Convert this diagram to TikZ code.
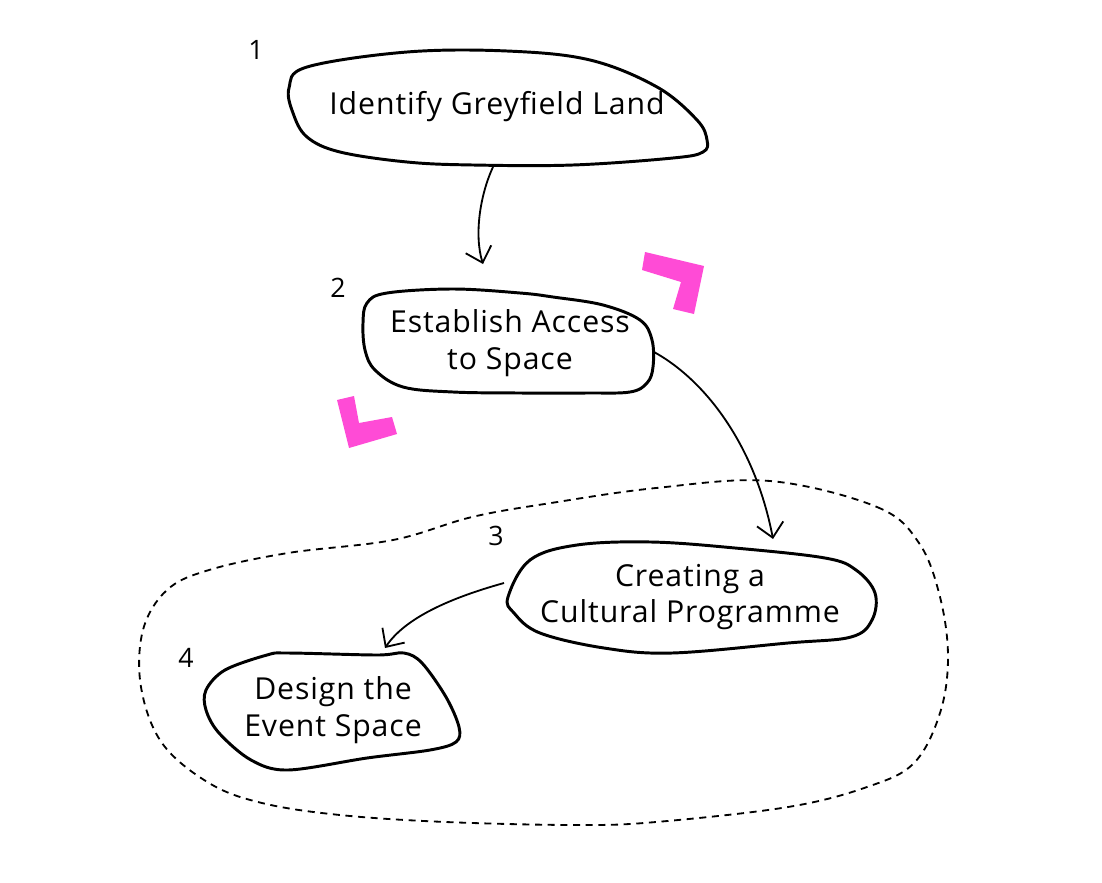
\documentclass[tikz,border=0pt]{standalone}
\usepackage{fontspec}
\setmainfont{Open Sans}[LetterSpace=3]
\usetikzlibrary{arrows.meta}
\definecolor{markpink}{RGB}{255,75,214}

\begin{document}
\begin{tikzpicture}[x=0.025cm,y=-0.025cm]
    \tikzstyle{blob}=[draw=black,line width=2.1pt,line join=round]
    \tikzstyle{group}=[draw=black,line width=1.3pt,dash pattern=on 5pt off 4pt]
    \tikzstyle{stage}=[align=center,font=\fontsize{21.5}{26}\selectfont]
    \tikzstyle{num}=[font=\fontsize{19}{20}\selectfont]
    \tikzstyle{link}=[draw=black,line width=1.3pt,-{Straight Barb[length=10pt,width=19pt]}]
    \tikzstyle{corner}=[fill=markpink]

    \useasboundingbox (0,0) rectangle (1102,882);

    % Dashed grouping of steps 3 and 4
    \draw[group] plot[smooth cycle,tension=0.6] coordinates {
        (770,481) (877,507) (919,543) (940,597) (948,657)
        (940,713) (914,763) (867,787) (788,807) (656,822) (577,825)
        (446,822) (340,815) (262,803) (209,783) (162,743) (141,687)
        (143,630) (167,590) (209,570) (288,553) (393,540) (472,517)
        (551,503) (656,488)};

    % Pink corner marks
    \path[corner] (645,252) -- (704,266) -- (694,314) -- (673,309) -- (681,282) -- (642,270) -- cycle;
    \path[corner] (337,400) -- (354,396) -- (359,423) -- (392,417) -- (397,434) -- (349,448) -- cycle;

    % Step texts
    \node[stage] (identify) at (497,107) {Identify Greyfield Land};
    \node[stage] (access) at (510,343) {Establish Access\\to Space};
    \node[stage] (culture) at (690,597) {Creating a\\Cultural Programme};
    \node[stage] (design) at (333,710) {Design the\\Event Space};

    % Step numbers
    \foreach \n/\x/\y in {1/256/50,2/338/288,3/496/536,4/186/658}
        \node[num] (num-\n) at (\x,\y) {\n};

    % Hand drawn outlines round the steps
    \draw[blob] plot[smooth cycle,tension=0.6] coordinates {
        (289,88) (307,67) (407,52) (507,51) (590,60) (657,87) (697,120)
        (707,140) (703,152) (673,158) (573,165) (473,165) (407,162)
        (340,152) (307,137) (293,113)};
    \draw[blob] plot[smooth cycle,tension=0.6] coordinates {
        (367,303) (387,293) (453,289) (520,293) (553,297) (603,305)
        (640,320) (652,340) (653,367) (647,383) (630,392) (587,393)
        (520,393) (453,392) (403,387) (375,370) (365,350) (363,323)};
    \draw[blob] plot[smooth cycle,tension=0.6] coordinates {
        (508,597) (530,560) (577,545) (651,542) (735,548) (825,558)
        (856,570) (875,593) (872,620) (851,637) (788,643) (672,653)
        (604,648) (540,633) (514,613)};
    \draw[blob] plot[smooth cycle,tension=0.55] coordinates {
        (206,690) (225,670) (267,655) (288,653) (377,655) (404,653)
        (422,663) (446,697) (459,727) (456,742) (430,750) (367,758)
        (288,770) (251,760) (219,733) (206,710)};

    % Ends of the connectors
    \coordinate (identify-out) at (493,167);
    \coordinate (access-in) at (483,264);
    \coordinate (access-out) at (654,352);
    \coordinate (culture-in) at (773,539);
    \coordinate (culture-out) at (504,583);
    \coordinate (design-in) at (385,648);

    % Connectors
    \draw[link] (identify-out) .. controls (480,195) and (474,235) .. (access-in);
    \draw[link] (access-out) .. controls (705,380) and (755,445) .. (culture-in);
    \draw[link] (culture-out) .. controls (450,598) and (405,618) .. (design-in);
\end{tikzpicture}
\end{document}
